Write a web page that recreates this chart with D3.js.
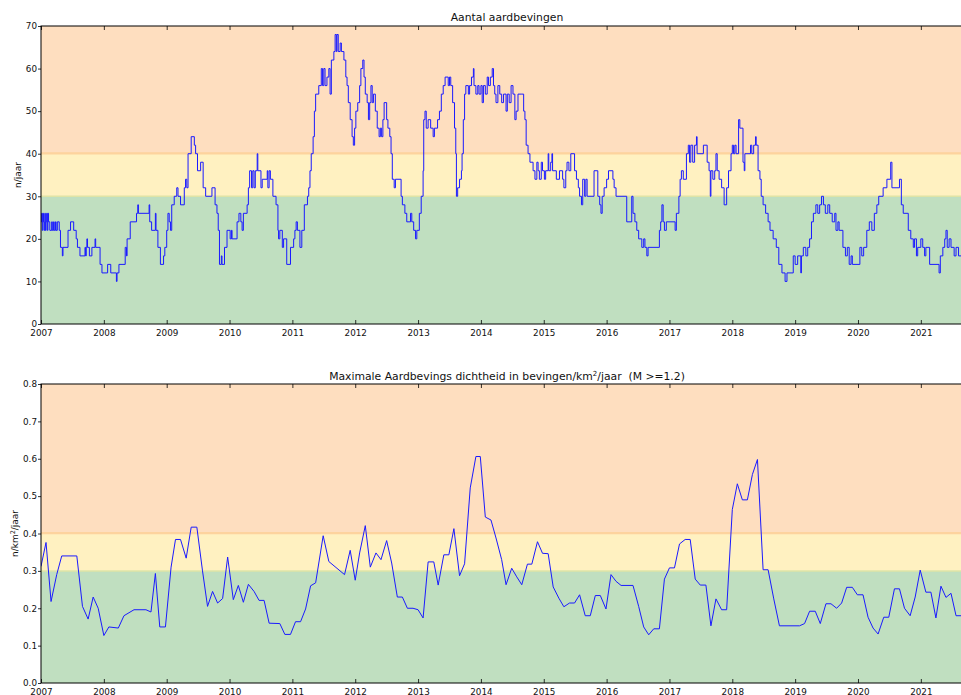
<!DOCTYPE html>
<html>
<head>
<meta charset="utf-8">
<script src="https://cdn.jsdelivr.net/npm/d3@7"></script>
<style>
  body { margin: 0; background: #fff; }
  svg { font-family: "DejaVu Sans", sans-serif; }
</style>
</head>
<body>
<div id="chart"></div>
<script>
const yearTicks = d3.range(2007, 2022);
const countTicks = [0, 10, 20, 30, 40, 50, 60, 70];
const densityTicks = [0, 0.1, 0.2, 0.3, 0.4, 0.5, 0.6, 0.7, 0.8];

// risk bands: [from, to, fill, edge]
const countBands = [[0, 30, "#c0dfc0", "#c0dfc0"], [30, 40, "#fff1c1", "#dfe4a6"], [40, 70, "#fedebf", "#fdd39e"]];
const densityBands = [[0, 0.3, "#c0dfc0", "#c0dfc0"], [0.3, 0.4, "#fff1c1", "#dfe4a6"], [0.4, 0.8, "#fedebf", "#fdd39e"]];

// number of earthquakes per year (running), [decimal year, n]
const countSteps = [
  [2007.00, 24], [2007.01, 26], [2007.02, 22], [2007.03, 26], [2007.04, 24], [2007.05, 22], [2007.06, 26],
  [2007.07, 22], [2007.08, 24], [2007.09, 26], [2007.10, 22], [2007.11, 26], [2007.12, 24], [2007.14, 22],
  [2007.17, 24], [2007.18, 22], [2007.20, 24], [2007.21, 22], [2007.23, 24], [2007.24, 22], [2007.26, 24],
  [2007.29, 22], [2007.31, 18], [2007.34, 16], [2007.35, 18], [2007.43, 22], [2007.47, 24], [2007.52, 22],
  [2007.56, 20], [2007.58, 18], [2007.62, 16], [2007.70, 18], [2007.71, 16], [2007.72, 18], [2007.73, 20],
  [2007.74, 18], [2007.77, 16], [2007.81, 18], [2007.86, 20], [2007.87, 18], [2007.94, 14], [2007.97, 12],
  [2008.06, 14], [2008.11, 12], [2008.20, 10], [2008.21, 12], [2008.24, 14], [2008.34, 18], [2008.36, 16],
  [2008.37, 20], [2008.42, 24], [2008.52, 26], [2008.54, 28], [2008.55, 26], [2008.72, 28], [2008.73, 24],
  [2008.76, 22], [2008.82, 26], [2008.83, 22], [2008.86, 18], [2008.90, 14], [2008.95, 16], [2008.97, 18],
  [2009.00, 22], [2009.02, 26], [2009.04, 24], [2009.06, 22], [2009.08, 28], [2009.12, 30], [2009.16, 32],
  [2009.18, 30], [2009.22, 28], [2009.28, 32], [2009.30, 34], [2009.32, 32], [2009.34, 40], [2009.39, 44],
  [2009.44, 42], [2009.46, 40], [2009.49, 36], [2009.54, 38], [2009.58, 32], [2009.62, 30], [2009.72, 32],
  [2009.77, 28], [2009.80, 26], [2009.82, 22], [2009.84, 14], [2009.87, 16], [2009.88, 14], [2009.92, 18],
  [2009.96, 22], [2010.01, 20], [2010.03, 22], [2010.04, 20], [2010.12, 24], [2010.15, 26], [2010.18, 24],
  [2010.20, 22], [2010.22, 26], [2010.28, 28], [2010.30, 32], [2010.32, 36], [2010.35, 32], [2010.37, 36],
  [2010.39, 32], [2010.41, 36], [2010.44, 40], [2010.45, 36], [2010.50, 32], [2010.52, 34], [2010.60, 36],
  [2010.61, 32], [2010.63, 36], [2010.65, 34], [2010.69, 30], [2010.74, 28], [2010.77, 22], [2010.78, 20],
  [2010.80, 22], [2010.84, 18], [2010.86, 20], [2010.91, 14], [2010.97, 18], [2011.02, 20], [2011.04, 22],
  [2011.06, 24], [2011.08, 22], [2011.12, 18], [2011.15, 22], [2011.19, 28], [2011.24, 30], [2011.26, 32],
  [2011.28, 36], [2011.30, 40], [2011.33, 44], [2011.35, 50], [2011.37, 54], [2011.42, 56], [2011.46, 60],
  [2011.48, 56], [2011.50, 60], [2011.52, 56], [2011.55, 58], [2011.58, 60], [2011.60, 54], [2011.62, 62],
  [2011.66, 64], [2011.68, 68], [2011.70, 64], [2011.71, 68], [2011.73, 64], [2011.76, 66], [2011.78, 64],
  [2011.82, 62], [2011.85, 58], [2011.87, 56], [2011.89, 52], [2011.92, 48], [2011.95, 44], [2011.97, 42],
  [2011.99, 46], [2012.01, 50], [2012.04, 52], [2012.07, 56], [2012.09, 60], [2012.12, 62], [2012.14, 58],
  [2012.16, 54], [2012.19, 52], [2012.21, 48], [2012.23, 52], [2012.25, 56], [2012.27, 52], [2012.29, 54],
  [2012.32, 50], [2012.35, 46], [2012.38, 44], [2012.40, 46], [2012.42, 44], [2012.44, 48], [2012.46, 52],
  [2012.50, 48], [2012.52, 46], [2012.55, 44], [2012.57, 40], [2012.59, 34], [2012.62, 32], [2012.64, 34],
  [2012.73, 30], [2012.75, 28], [2012.79, 26], [2012.82, 24], [2012.88, 26], [2012.90, 24], [2012.93, 22],
  [2012.96, 20], [2012.98, 22], [2013.02, 26], [2013.05, 30], [2013.08, 36], [2013.09, 48], [2013.11, 50],
  [2013.13, 46], [2013.16, 48], [2013.20, 46], [2013.24, 44], [2013.26, 46], [2013.31, 48], [2013.34, 50],
  [2013.37, 54], [2013.40, 56], [2013.43, 58], [2013.48, 56], [2013.50, 58], [2013.52, 56], [2013.55, 52],
  [2013.58, 46], [2013.60, 40], [2013.61, 30], [2013.63, 32], [2013.66, 34], [2013.69, 36], [2013.70, 40],
  [2013.72, 48], [2013.74, 54], [2013.76, 56], [2013.80, 54], [2013.82, 56], [2013.85, 58], [2013.88, 60],
  [2013.89, 56], [2013.92, 54], [2013.95, 56], [2013.97, 54], [2014.00, 56], [2014.02, 52], [2014.04, 56],
  [2014.07, 54], [2014.10, 58], [2014.12, 56], [2014.15, 58], [2014.18, 60], [2014.20, 56], [2014.22, 54],
  [2014.24, 52], [2014.27, 56], [2014.30, 54], [2014.33, 52], [2014.36, 54], [2014.40, 50], [2014.42, 54],
  [2014.45, 52], [2014.48, 56], [2014.51, 54], [2014.54, 48], [2014.56, 50], [2014.59, 54], [2014.64, 54],
  [2014.68, 50], [2014.70, 48], [2014.72, 42], [2014.75, 40], [2014.78, 38], [2014.83, 36], [2014.86, 34],
  [2014.89, 38], [2014.91, 36], [2014.93, 34], [2014.96, 38], [2014.98, 36], [2015.01, 34], [2015.03, 36],
  [2015.07, 40], [2015.08, 36], [2015.11, 38], [2015.13, 40], [2015.14, 36], [2015.20, 34], [2015.25, 36],
  [2015.30, 34], [2015.32, 32], [2015.35, 36], [2015.37, 38], [2015.40, 36], [2015.43, 40], [2015.49, 36],
  [2015.52, 34], [2015.55, 32], [2015.57, 30], [2015.60, 28], [2015.62, 34], [2015.65, 30], [2015.67, 34],
  [2015.69, 30], [2015.80, 36], [2015.86, 30], [2015.89, 28], [2015.91, 26], [2015.93, 30], [2015.96, 32],
  [2016.00, 34], [2016.03, 36], [2016.10, 34], [2016.12, 32], [2016.15, 30], [2016.32, 24], [2016.40, 30],
  [2016.42, 26], [2016.45, 24], [2016.48, 22], [2016.51, 20], [2016.56, 18], [2016.59, 20], [2016.61, 18],
  [2016.64, 16], [2016.66, 18], [2016.84, 22], [2016.86, 24], [2016.88, 28], [2016.90, 24], [2016.92, 22],
  [2016.95, 24], [2017.09, 22], [2017.11, 26], [2017.15, 30], [2017.17, 34], [2017.19, 36], [2017.22, 34],
  [2017.27, 40], [2017.30, 42], [2017.32, 38], [2017.34, 42], [2017.37, 38], [2017.40, 42], [2017.43, 44],
  [2017.44, 40], [2017.54, 42], [2017.60, 38], [2017.63, 36], [2017.65, 30], [2017.66, 36], [2017.69, 34],
  [2017.72, 36], [2017.74, 40], [2017.76, 36], [2017.79, 34], [2017.83, 32], [2017.87, 28], [2017.91, 32],
  [2017.94, 36], [2017.98, 40], [2018.00, 42], [2018.02, 40], [2018.04, 42], [2018.06, 40], [2018.10, 48],
  [2018.12, 46], [2018.17, 38], [2018.19, 36], [2018.20, 40], [2018.29, 42], [2018.31, 40], [2018.34, 42],
  [2018.37, 44], [2018.38, 42], [2018.41, 36], [2018.44, 34], [2018.46, 30], [2018.49, 28], [2018.53, 26],
  [2018.57, 24], [2018.60, 22], [2018.65, 20], [2018.70, 18], [2018.74, 14], [2018.79, 12], [2018.84, 10],
  [2018.87, 12], [2018.97, 16], [2019.00, 14], [2019.04, 16], [2019.09, 12], [2019.10, 16], [2019.13, 18],
  [2019.17, 16], [2019.20, 18], [2019.23, 20], [2019.26, 24], [2019.29, 26], [2019.33, 28], [2019.36, 26],
  [2019.39, 28], [2019.42, 30], [2019.45, 28], [2019.48, 26], [2019.52, 28], [2019.55, 26], [2019.59, 24],
  [2019.63, 26], [2019.65, 22], [2019.68, 24], [2019.70, 22], [2019.76, 18], [2019.80, 16], [2019.83, 18],
  [2019.86, 14], [2019.89, 16], [2019.91, 14], [2020.03, 18], [2020.06, 16], [2020.09, 18], [2020.14, 22],
  [2020.18, 24], [2020.22, 22], [2020.26, 26], [2020.30, 28], [2020.33, 30], [2020.40, 32], [2020.46, 34],
  [2020.52, 38], [2020.54, 32], [2020.66, 34], [2020.69, 28], [2020.72, 26], [2020.80, 22], [2020.84, 20],
  [2020.88, 18], [2020.90, 20], [2020.93, 16], [2020.95, 18], [2021.00, 20], [2021.03, 18], [2021.06, 16],
  [2021.08, 18], [2021.14, 14], [2021.29, 12], [2021.31, 16], [2021.35, 18], [2021.38, 20], [2021.40, 22],
  [2021.42, 18], [2021.45, 20], [2021.48, 18], [2021.53, 16], [2021.56, 18], [2021.60, 16], [2021.75, 16]
];

// maximum density in quakes/km2/year, [decimal year, density]
const densityPoints = [
  [2007.00, 0.312], [2007.08, 0.376], [2007.16, 0.218], [2007.25, 0.290], [2007.33, 0.340], [2007.57, 0.340],
  [2007.66, 0.205], [2007.75, 0.171], [2007.83, 0.230], [2007.91, 0.200], [2008.00, 0.127], [2008.08, 0.150],
  [2008.23, 0.147], [2008.32, 0.180], [2008.48, 0.196], [2008.67, 0.196], [2008.75, 0.190], [2008.82, 0.293],
  [2008.89, 0.150], [2008.98, 0.150], [2009.07, 0.310], [2009.14, 0.384], [2009.22, 0.384], [2009.31, 0.334],
  [2009.39, 0.417], [2009.48, 0.417], [2009.57, 0.300], [2009.65, 0.205], [2009.73, 0.245], [2009.81, 0.214],
  [2009.89, 0.226], [2009.97, 0.337], [2010.06, 0.223], [2010.14, 0.261], [2010.22, 0.216], [2010.30, 0.264],
  [2010.39, 0.245], [2010.47, 0.221], [2010.55, 0.221], [2010.63, 0.160], [2010.80, 0.159], [2010.88, 0.130],
  [2010.97, 0.130], [2011.05, 0.164], [2011.13, 0.164], [2011.21, 0.198], [2011.29, 0.260], [2011.37, 0.268],
  [2011.49, 0.394], [2011.58, 0.325], [2011.83, 0.290], [2011.92, 0.355], [2012.00, 0.275], [2012.07, 0.348],
  [2012.16, 0.421], [2012.24, 0.310], [2012.33, 0.348], [2012.41, 0.330], [2012.50, 0.381], [2012.58, 0.321],
  [2012.67, 0.230], [2012.75, 0.230], [2012.83, 0.200], [2012.92, 0.200], [2013.00, 0.196], [2013.08, 0.174],
  [2013.16, 0.324], [2013.25, 0.324], [2013.32, 0.262], [2013.41, 0.343], [2013.49, 0.343], [2013.57, 0.413],
  [2013.66, 0.287], [2013.74, 0.319], [2013.83, 0.522], [2013.92, 0.606], [2013.99, 0.606], [2014.07, 0.444],
  [2014.16, 0.436], [2014.24, 0.388], [2014.33, 0.330], [2014.40, 0.263], [2014.49, 0.307], [2014.57, 0.284],
  [2014.65, 0.263], [2014.74, 0.318], [2014.81, 0.318], [2014.90, 0.378], [2014.98, 0.347], [2015.07, 0.346],
  [2015.15, 0.257], [2015.24, 0.227], [2015.32, 0.204], [2015.41, 0.214], [2015.49, 0.214], [2015.57, 0.236],
  [2015.66, 0.180], [2015.74, 0.180], [2015.82, 0.234], [2015.90, 0.234], [2015.99, 0.198], [2016.07, 0.290],
  [2016.15, 0.272], [2016.23, 0.261], [2016.42, 0.261], [2016.51, 0.205], [2016.59, 0.150], [2016.67, 0.129],
  [2016.75, 0.145], [2016.84, 0.145], [2016.92, 0.278], [2017.00, 0.308], [2017.08, 0.308], [2017.16, 0.372],
  [2017.25, 0.384], [2017.33, 0.384], [2017.41, 0.278], [2017.49, 0.262], [2017.58, 0.262], [2017.66, 0.153],
  [2017.74, 0.225], [2017.83, 0.196], [2017.91, 0.196], [2018.00, 0.464], [2018.08, 0.533], [2018.16, 0.490],
  [2018.24, 0.490], [2018.32, 0.558], [2018.40, 0.598], [2018.49, 0.303], [2018.57, 0.303], [2018.66, 0.225],
  [2018.75, 0.153], [2019.07, 0.153], [2019.15, 0.159], [2019.23, 0.192], [2019.32, 0.192], [2019.40, 0.159],
  [2019.49, 0.212], [2019.57, 0.212], [2019.66, 0.200], [2019.74, 0.214], [2019.82, 0.256], [2019.91, 0.256],
  [2019.99, 0.236], [2020.08, 0.236], [2020.16, 0.176], [2020.24, 0.147], [2020.32, 0.131], [2020.41, 0.176],
  [2020.49, 0.176], [2020.58, 0.252], [2020.66, 0.252], [2020.74, 0.200], [2020.83, 0.180], [2020.91, 0.230],
  [2020.99, 0.302], [2021.08, 0.243], [2021.16, 0.243], [2021.24, 0.174], [2021.32, 0.259], [2021.40, 0.229],
  [2021.48, 0.240], [2021.56, 0.180], [2021.70, 0.180]
];

const width = 961, height = 695;
const left = 41, right = 973;

const svg = d3.select("#chart").append("svg")
  .attr("width", width)
  .attr("height", height);

const x = d3.scaleLinear().domain([2007, 2021.83]).range([left, right]);

function drawPanel(opts) {
  const y = d3.scaleLinear().domain(opts.domain).range([opts.bottom, opts.top]);
  const g = svg.append("g");
  const clipId = "clip-" + opts.id;

  g.append("clipPath").attr("id", clipId)
    .append("rect")
    .attr("x", left).attr("y", opts.top)
    .attr("width", right - left).attr("height", opts.bottom - opts.top);

  // coloured bands
  g.append("g").selectAll("rect")
    .data(opts.bands)
    .join("rect")
    .attr("x", left)
    .attr("width", right - left)
    .attr("y", (d) => y(d[1]))
    .attr("height", (d) => y(d[0]) - y(d[1]))
    .attr("fill", (d) => d[2]);

  // band edges
  g.append("g").selectAll("line")
    .data(opts.bands.slice(1))
    .join("line")
    .attr("x1", left).attr("x2", right)
    .attr("y1", (d) => y(d[0])).attr("y2", (d) => y(d[0]))
    .attr("stroke", (d) => d[3])
    .attr("stroke-width", 1.5);
  g.append("line")
    .attr("x1", left).attr("x2", right)
    .attr("y1", y(opts.bands[2][0]) - 1).attr("y2", y(opts.bands[2][0]) - 1)
    .attr("stroke", "#fdd39e").attr("stroke-width", 1);

  // data line
  const line = d3.line()
    .x((d) => x(d[0]))
    .y((d) => y(d[1]))
    .curve(opts.curve);
  g.append("path")
    .datum(opts.data)
    .attr("clip-path", `url(#${clipId})`)
    .attr("fill", "none")
    .attr("stroke", "#1a1aff")
    .attr("stroke-width", 1)
    .attr("stroke-linejoin", "miter")
    .attr("d", line);

  // axes
  const xb = g.append("g")
    .attr("transform", `translate(0,${opts.bottom})`)
    .call(d3.axisBottom(x).tickValues(yearTicks).tickFormat(d3.format("d")).tickSizeInner(-4).tickSizeOuter(0).tickPadding(5.5));
  g.append("g")
    .attr("transform", `translate(0,${opts.top})`)
    .call(d3.axisTop(x).tickValues(yearTicks).tickFormat("").tickSizeInner(-4).tickSizeOuter(0));
  const yl = g.append("g")
    .attr("transform", `translate(${left},0)`)
    .call(d3.axisLeft(y).tickValues(opts.ticks).tickFormat(opts.format).tickSizeInner(3).tickSizeOuter(0).tickPadding(1));

  g.selectAll(".domain").remove();
  g.selectAll(".tick line").attr("stroke", "#000").attr("stroke-width", 0.8);
  g.selectAll(".tick text").attr("font-family", "DejaVu Sans").attr("font-size", 8.8).attr("fill", "#111");

  // frame
  g.append("rect")
    .attr("x", left).attr("y", opts.top)
    .attr("width", right - left).attr("height", opts.bottom - opts.top)
    .attr("fill", "none")
    .attr("stroke", "#000")
    .attr("stroke-width", 1);

  // title
  const t = g.append("text")
    .attr("x", (left + right) / 2)
    .attr("y", opts.titleY)
    .attr("text-anchor", "middle")
    .attr("font-size", 10.8)
    .attr("fill", "#111")
    .style("white-space", "pre");
  opts.title.forEach((part) => {
    const s = t.append("tspan").text(part.text);
    if (part.sup) s.attr("font-size", 7).attr("dy", -4);
    if (part.after) s.attr("dy", 4);
  });

  // y label
  const lab = g.append("text")
    .attr("transform", `translate(${opts.labelX},${(opts.top + opts.bottom) / 2}) rotate(-90)`)
    .attr("text-anchor", "middle")
    .attr("font-size", 9)
    .attr("fill", "#111");
  opts.label.forEach((part) => {
    const s = lab.append("tspan").text(part.text);
    if (part.sup) s.attr("font-size", 6.5).attr("dy", -3.5);
    if (part.after) s.attr("dy", 3.5);
  });
}

drawPanel({
  id: "count",
  top: 26, bottom: 324,
  domain: [0, 70],
  ticks: countTicks,
  format: d3.format("d"),
  bands: countBands,
  data: countSteps,
  curve: d3.curveStepAfter,
  titleY: 21,
  title: [{ text: "Aantal aardbevingen" }],
  labelX: 21,
  label: [{ text: "n/jaar" }]
});

drawPanel({
  id: "density",
  top: 384, bottom: 683,
  domain: [0, 0.8],
  ticks: densityTicks,
  format: d3.format(".1f"),
  bands: densityBands,
  data: densityPoints,
  curve: d3.curveLinear,
  titleY: 380,
  title: [
    { text: "Maximale Aardbevings dichtheid in bevingen/km" },
    { text: "2", sup: true },
    { text: "/jaar  (M >=1.2)", after: true }
  ],
  labelX: 18,
  label: [
    { text: "n/km" },
    { text: "2", sup: true },
    { text: "/jaar", after: true }
  ]
});
</script>
</body>
</html>
